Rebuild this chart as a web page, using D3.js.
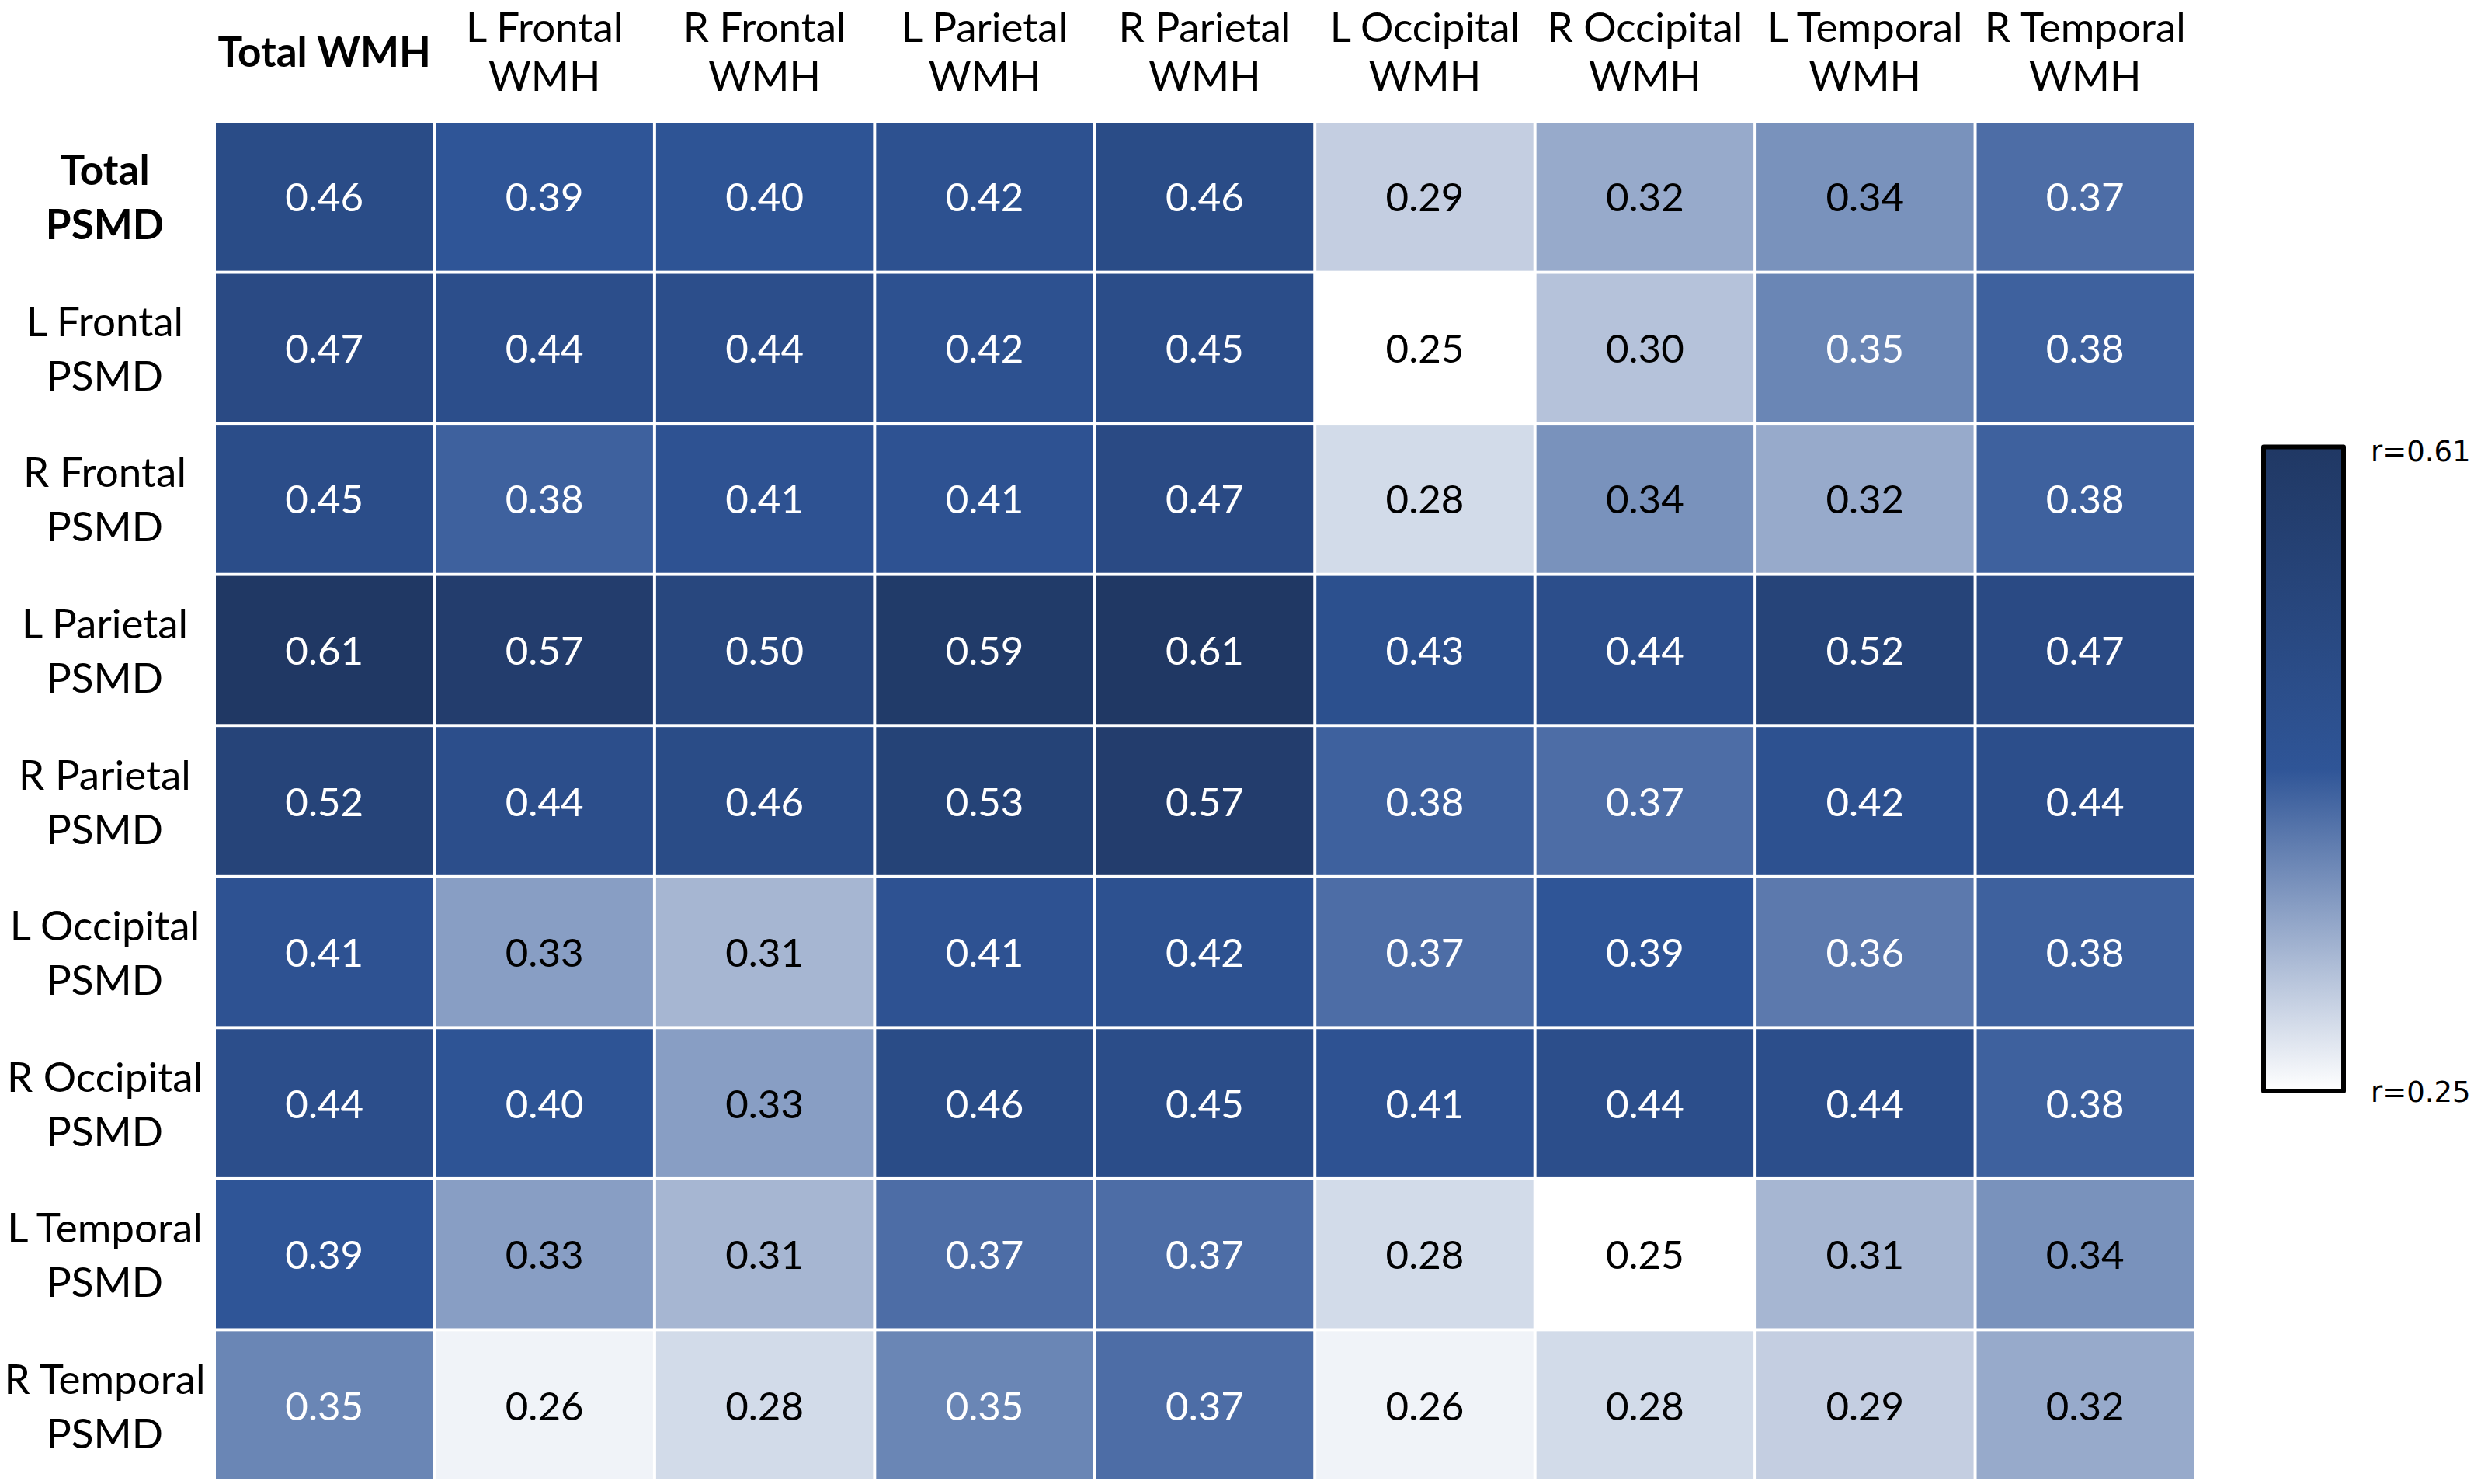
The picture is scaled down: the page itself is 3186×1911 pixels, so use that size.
<!DOCTYPE html>
<html lang="en">
<head>
	<meta charset="UTF-8">
	<title>PSMD vs WMH correlations</title>
	<script src="https://d3js.org/d3.v7.min.js"></script>
	<style>
		body { margin: 0; background: #fff; }
		svg { display: block; }
	</style>
</head>
<body>
	<svg id="chart" width="3186" height="1911"></svg>
	<script>
		// column headers (WMH regions), one entry per line
		const colLabels = [
			["Total WMH"],
			["L Frontal", "WMH"],
			["R Frontal", "WMH"],
			["L Parietal", "WMH"],
			["R Parietal", "WMH"],
			["L Occipital", "WMH"],
			["R Occipital", "WMH"],
			["L Temporal", "WMH"],
			["R Temporal", "WMH"]
		];

		// row headers (PSMD regions)
		const rowLabels = [
			["Total", "PSMD"],
			["L Frontal", "PSMD"],
			["R Frontal", "PSMD"],
			["L Parietal", "PSMD"],
			["R Parietal", "PSMD"],
			["L Occipital", "PSMD"],
			["R Occipital", "PSMD"],
			["L Temporal", "PSMD"],
			["R Temporal", "PSMD"]
		];

		// correlation r, one row per PSMD region, columns follow colLabels
		const values = [
			[0.46, 0.39, 0.40, 0.42, 0.46, 0.29, 0.32, 0.34, 0.37],
			[0.47, 0.44, 0.44, 0.42, 0.45, 0.25, 0.30, 0.35, 0.38],
			[0.45, 0.38, 0.41, 0.41, 0.47, 0.28, 0.34, 0.32, 0.38],
			[0.61, 0.57, 0.50, 0.59, 0.61, 0.43, 0.44, 0.52, 0.47],
			[0.52, 0.44, 0.46, 0.53, 0.57, 0.38, 0.37, 0.42, 0.44],
			[0.41, 0.33, 0.31, 0.41, 0.42, 0.37, 0.39, 0.36, 0.38],
			[0.44, 0.40, 0.33, 0.46, 0.45, 0.41, 0.44, 0.44, 0.38],
			[0.39, 0.33, 0.31, 0.37, 0.37, 0.28, 0.25, 0.31, 0.34],
			[0.35, 0.26, 0.28, 0.35, 0.37, 0.26, 0.28, 0.29, 0.32]
		];

		const legendLabels = ["r=0.61", "r=0.25"];

		const svg = d3.select("#chart");
		const font = "Lato, 'Open Sans', sans-serif";
		const numSize = 51;
		const labelSize = 53;
		const whiteTextFrom = 0.35;

		const x = d3.scaleBand()
			.domain(d3.range(colLabels.length))
			.range([278, 2825])
			.paddingInner(0.014);

		const y = d3.scaleBand()
			.domain(d3.range(rowLabels.length))
			.range([158, 1905])
			.paddingInner(0.02);

		// excel style 3-colour scale: min / median / max
		const flat = values.flat();
		const [vMin, vMax] = d3.extent(flat);
		const vMid = d3.median(flat);
		const color = d3.scaleLinear()
			.domain([vMin, vMid, vMax])
			.range(["#ffffff", "#2f5597", "#203864"])
			.interpolate(d3.interpolateRgb);

		const cells = [];
		values.forEach((row, r) => row.forEach((v, c) => cells.push({ r, c, v })));

		svg.append("g")
			.selectAll("rect")
			.data(cells)
			.join("rect")
			.attr("x", d => x(d.c))
			.attr("y", d => y(d.r))
			.attr("width", x.bandwidth())
			.attr("height", y.bandwidth())
			.attr("fill", d => color(d.v));

		svg.append("g")
			.selectAll("text")
			.data(cells)
			.join("text")
			.attr("x", d => x(d.c) + x.bandwidth() / 2)
			.attr("y", d => y(d.r) + y.bandwidth() / 2 + 19)
			.attr("text-anchor", "middle")
			.attr("font-family", font)
			.attr("font-size", numSize)
			.attr("fill", d => d.v >= whiteTextFrom ? "#fff" : "#000")
			.text(d => d.v.toFixed(2));

		// column headers
		const headerLine = [54, 117];
		svg.append("g")
			.selectAll("text")
			.data(colLabels)
			.join("text")
			.attr("text-anchor", "middle")
			.attr("font-family", font)
			.attr("font-size", labelSize)
			.attr("font-weight", (d, i) => i === 0 ? "bold" : "normal")
			.each(function(lines, i) {
				const t = d3.select(this);
				lines.forEach((line, k) => {
					t.append("tspan")
						.attr("x", x(i) + x.bandwidth() / 2)
						.attr("y", lines.length === 1 ? d3.mean(headerLine) : headerLine[k])
						.text(line);
				});
			});

		// row headers
		svg.append("g")
			.selectAll("text")
			.data(rowLabels)
			.join("text")
			.attr("text-anchor", "middle")
			.attr("font-family", font)
			.attr("font-size", labelSize)
			.attr("font-weight", (d, i) => i === 0 ? "bold" : "normal")
			.each(function(lines, i) {
				const t = d3.select(this);
				const cy = y(i) + y.bandwidth() / 2;
				lines.forEach((line, k) => {
					t.append("tspan")
						.attr("x", 135)
						.attr("y", cy - (lines.length - 1) * 70 / 2 + k * 70 + 20)
						.text(line);
				});
			});

		// colour legend
		const grad = svg.append("defs").append("linearGradient")
			.attr("id", "legendGrad")
			.attr("x1", 0).attr("y1", 0)
			.attr("x2", 0).attr("y2", 1);
		grad.selectAll("stop")
			.data([vMax, vMid, vMin])
			.join("stop")
			.attr("offset", (d, i) => i / 2)
			.attr("stop-color", d => color(d));

		const legendY = d3.scaleLinear().domain([vMax, vMin]).range([575.5, 1405]);

		svg.append("rect")
			.attr("x", 2915)
			.attr("y", legendY(vMax))
			.attr("width", 103)
			.attr("height", legendY(vMin) - legendY(vMax))
			.attr("fill", "url(#legendGrad)")
			.attr("stroke", "#000")
			.attr("stroke-width", 6)
			.attr("stroke-linejoin", "round");

		svg.append("g")
			.selectAll("text")
			.data(legendLabels)
			.join("text")
			.attr("x", 3053)
			.attr("y", (d, i) => i === 0 ? legendY(vMax) + 18.5 : legendY(vMin) + 14)
			.attr("font-family", "'DejaVu Sans', sans-serif")
			.attr("font-size", 37)
			.attr("fill", "#000")
			.text(d => d);
	</script>
</body>
</html>
